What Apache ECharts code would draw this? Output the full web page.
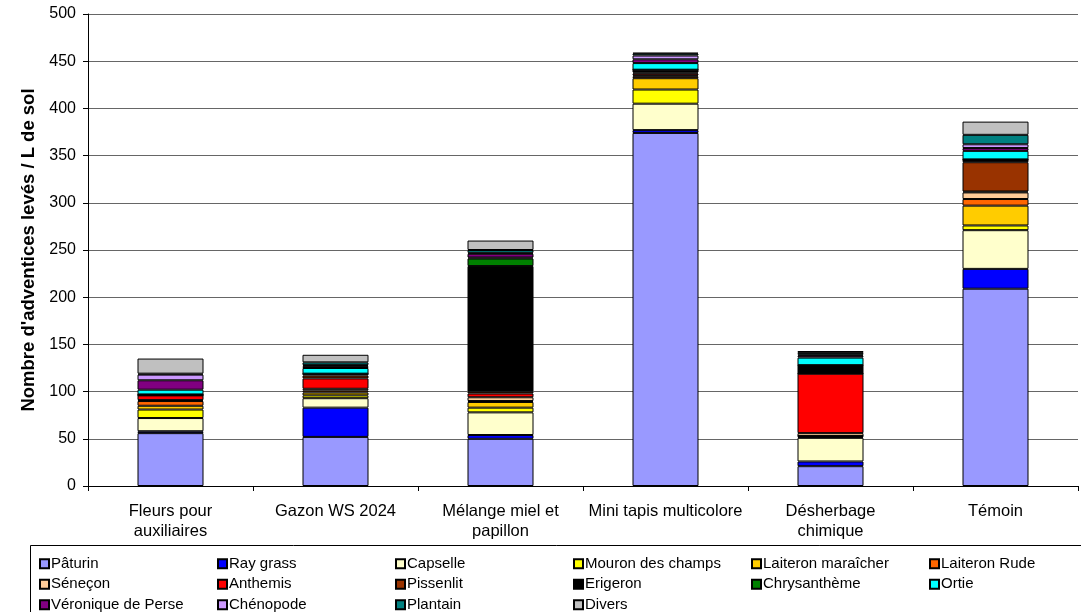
<!DOCTYPE html>
<html>
<head>
<meta charset="utf-8">
<script src="https://cdn.jsdelivr.net/npm/echarts@6/dist/echarts.min.js"></script>
<style>
html,body{margin:0;padding:0;background:#fff;}
#c{width:1081px;height:612px;}
</style>
</head>
<body>
<div id="c"></div>
<script>
const categories = ["Fleurs pour\nauxiliaires", "Gazon WS 2024", "Mélange miel et\npapillon", "Mini tapis multicolore", "Désherbage\nchimique", "Témoin"];
const yTicks = { min: 0, max: 500, interval: 50 };
const speciesNames = ["Pâturin", "Ray grass", "Capselle", "Mouron des champs", "Laiteron maraîcher", "Laiteron Rude", "Séneçon", "Anthemis", "Pissenlit", "Erigeron", "Chrysanthème", "Ortie", "Véronique de Perse", "Chénopode", "Plantain", "Divers"];
const speciesColors = ["#9999FF", "#0000FF", "#FFFFCC", "#FFFF00", "#FFCC00", "#FF6600", "#FFCC99", "#FF0000", "#993300", "#000000", "#008000", "#00FFFF", "#800080", "#CC99FF", "#008080", "#C0C0C0"];
// values per category order: Fleurs, Gazon, Mélange, Mini tapis, Désherbage, Témoin
const paturin = [56, 52, 50, 374, 21, 209];
const rayGrass = [2, 31, 4, 3, 5, 21];
const capselle = [14, 10, 24, 28, 25, 41];
const mouron = [9, 3, 5, 15, 1, 5];
const laiteronMaraicher = [4, 3, 6, 12, 1, 21];
const laiteronRude = [5, 2, 1, 2, 0, 7];
const senecon = [1, 2, 4, 1, 3, 7];
const anthemis = [5, 11, 4, 2, 63, 1];
const pissenlit = [0, 3, 2, 1, 0, 31];
const erigeron = [1, 2, 133, 3, 9, 3];
const chrysantheme = [0, 0, 8, 0, 0, 0];
const ortie = [5, 6, 1, 7, 8, 9];
const veronique = [10, 2, 4, 4, 2, 3];
const chenopode = [6, 1, 1, 4, 1, 4];
const plantain = [1, 3, 3, 2, 2, 10];
const divers = [16, 8, 10, 1, 2, 14];
const speciesValues = [paturin, rayGrass, capselle, mouron, laiteronMaraicher, laiteronRude, senecon, anthemis, pissenlit, erigeron, chrysantheme, ortie, veronique, chenopode, plantain, divers];

const FONT = "'Liberation Sans', Arial, sans-serif";
const chart = echarts.init(document.getElementById('c'), null, { renderer: 'canvas' });
const series = speciesNames.map((n, i) => ({
  name: n,
  type: 'bar',
  stack: 'total',
  barWidth: '40%',
  data: speciesValues[i],
  itemStyle: { color: speciesColors[i], borderColor: '#000', borderWidth: 1 },
  emphasis: { disabled: true }
}));
chart.setOption({
  animation: false,
  backgroundColor: '#fff',
  textStyle: { fontFamily: FONT },
  grid: { left: 88, right: 3, top: 14, bottom: 126, containLabel: false },
  xAxis: {
    type: 'category',
    data: categories,
    axisLine: { lineStyle: { color: '#000', width: 1 } },
    axisTick: { show: true, length: 5, lineStyle: { color: '#000' } },
    axisLabel: { color: '#000', fontSize: 16.5, fontFamily: FONT, lineHeight: 20, margin: 15, interval: 0 }
  },
  yAxis: {
    type: 'value',
    min: yTicks.min, max: yTicks.max, interval: yTicks.interval,
    name: "Nombre d'adventices levés / L de sol",
    nameLocation: 'middle',
    nameGap: 49,
    nameTextStyle: { color: '#000', fontSize: 18.5, fontWeight: 'bold', fontFamily: FONT },
    axisLine: { show: true, lineStyle: { color: '#000', width: 1 } },
    axisTick: { show: true, length: 5, lineStyle: { color: '#000' } },
    axisLabel: { color: '#000', fontSize: 16, fontFamily: FONT, margin: 12 },
    splitLine: { show: true, lineStyle: { color: '#666', width: 1 } }
  },
  legend: {
    left: 34, top: 551, width: 1075,
    orient: 'horizontal',
    icon: 'rect', itemWidth: 9, itemHeight: 9, itemGap: 5,
    selectedMode: false,
    textStyle: { color: '#000', fontSize: 15, fontFamily: FONT, width: 161, overflow: 'truncate', lineHeight: 15.5, padding: [0,0,0,-3] },
    data: speciesNames
  },
  graphic: [{
    type: 'rect', silent: true, z: -1,
    shape: { x: 30.5, y: 545.5, width: 1100, height: 100 },
    style: { fill: 'none', stroke: '#000', lineWidth: 1 }
  }],
  series: series
});
</script>
</body>
</html>
